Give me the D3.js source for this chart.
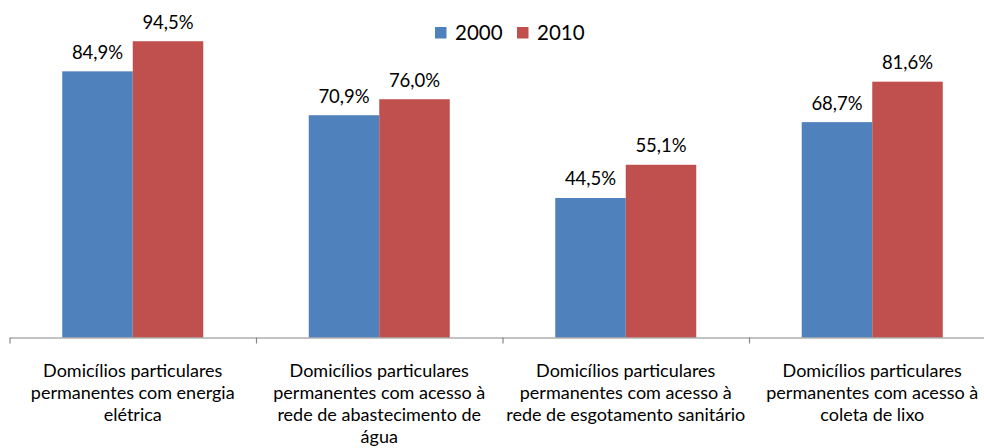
<!DOCTYPE html>
<html>
<head>
<meta charset="utf-8">
<script src="https://cdn.jsdelivr.net/npm/d3@7"></script>
<style>
  body { margin: 0; background: #fff; }
  svg { display: block; font-family: Lato, "Open Sans", sans-serif; }
</style>
</head>
<body>
<div class="chart"></div>
<script>
// data
const categories = [
    ["Domicílios particulares", "permanentes com energia", "elétrica"],
    ["Domicílios particulares", "permanentes com acesso à", "rede de abastecimento de", "água"],
    ["Domicílios particulares", "permanentes com acesso à", "rede de esgotamento sanitário"],
    ["Domicílios particulares", "permanentes com acesso à", "coleta de lixo"],
];
const seriesNames = ["2000", "2010"];
const values2000 = [84.9, 70.9, 44.5, 68.7];
const values2010 = [94.5, 76.0, 55.1, 81.6];
const colors = ["#4F81BD", "#C0504D"];

const w = 984;
const h = 448;
const baseline = 337.5;

const fmt = v => v.toFixed(1).replace(".", ",") + "%";

const rows = categories.map((c, i) => ({
    idx: i,
    lines: c,
    vals: [values2000[i], values2010[i]],
}));

const svg = d3
    .select(".chart")
    .append("svg")
    .attr("width", w)
    .attr("height", h);

const x0 = d3
    .scaleBand()
    .domain(d3.range(categories.length))
    .range([9.5, 995.5])
    .padding(0);

const x1 = d3
    .scaleBand()
    .domain(seriesNames)
    .range([0, x0.bandwidth()])
    .paddingInner(0)
    .paddingOuter(0.748);

const yScale = d3.scaleLinear().domain([0, 100]).range([baseline, 24]);

const groups = svg
    .selectAll("g.cat")
    .data(rows)
    .enter()
    .append("g")
    .attr("class", "cat")
    .attr("transform", d => "translate(" + x0(d.idx) + ",0)");

groups
    .selectAll("rect")
    .data(d => d.vals.map((v, j) => ({ v, s: seriesNames[j], j })))
    .enter()
    .append("rect")
    .attr("x", d => x1(d.s))
    .attr("width", x1.bandwidth())
    .attr("y", d => yScale(d.v))
    .attr("height", d => baseline - yScale(d.v))
    .attr("fill", d => colors[d.j]);

groups
    .selectAll("text.val")
    .data(d => d.vals.map((v, j) => ({ v, s: seriesNames[j], j })))
    .enter()
    .append("text")
    .attr("class", "val")
    .attr("x", d => x1(d.s) + x1.bandwidth() / 2)
    .attr("y", d => yScale(d.v) - 12.5)
    .attr("text-anchor", "middle")
    .attr("font-size", "18.5px")
    .attr("fill", "#000")
    .text(d => fmt(d.v));

// axis: line with ticks on the category boundaries
const edge = d3
    .scaleLinear()
    .domain([0, categories.length])
    .range([9.5, 995.5]);

const xAxis = d3
    .axisBottom(edge)
    .ticks(categories.length)
    .tickSize(6)
    .tickSizeOuter(0)
    .tickFormat("");

const axisG = svg
    .append("g")
    .attr("transform", "translate(0," + baseline + ")")
    .call(xAxis);
axisG.selectAll("path, line").attr("stroke", "#878787").attr("stroke-width", 1.2);

// category labels
const labels = svg
    .selectAll("text.cat")
    .data(rows)
    .enter()
    .append("text")
    .attr("class", "cat")
    .attr("text-anchor", "middle")
    .attr("font-size", "18px")
    .attr("fill", "#000");

labels
    .selectAll("tspan")
    .data(d => d.lines.map(l => ({ l, cx: x0(d.idx) + x0.bandwidth() / 2 })))
    .enter()
    .append("tspan")
    .attr("x", d => d.cx)
    .attr("y", (d, i) => 377 + i * 22)
    .text(d => d.l);

// legend
const legend = svg
    .selectAll("g.leg")
    .data(seriesNames)
    .enter()
    .append("g")
    .attr("class", "leg")
    .attr("transform", (d, i) => "translate(" + (435 + i * 82) + ",27)");

legend
    .append("rect")
    .attr("width", 11.5)
    .attr("height", 11.5)
    .attr("fill", (d, i) => colors[i]);

legend
    .append("text")
    .attr("x", 20)
    .attr("y", 12.5)
    .attr("font-size", "20.5px")
    .attr("fill", "#000")
    .text(d => d);
</script>
</body>
</html>
